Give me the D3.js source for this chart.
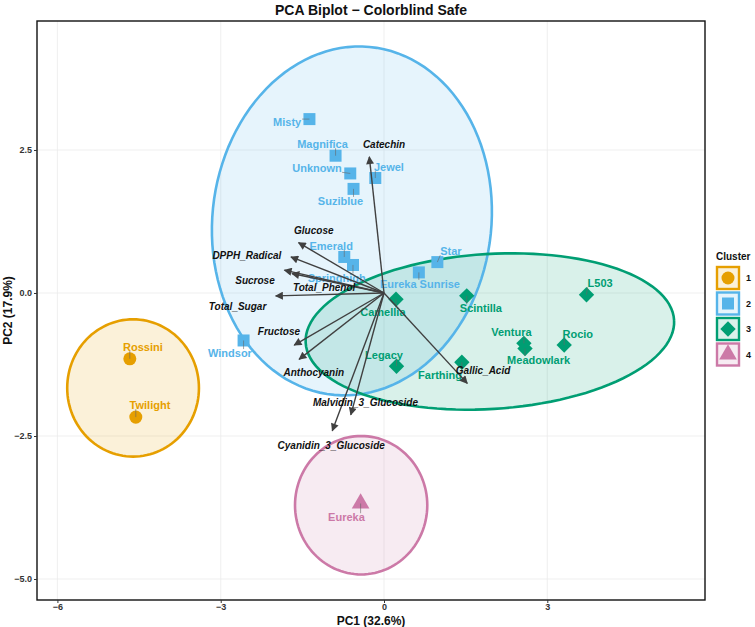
<!DOCTYPE html>
<html>
<head>
<meta charset="utf-8">
<script src="https://cdn.jsdelivr.net/npm/d3@7"></script>
<style>
  body { margin: 0; background: #fff; }
  svg { display: block; font-family: "Liberation Sans", Arial, sans-serif; }
</style>
</head>
<body>
<div id="chart"></div>
<script>
// cultivar scores (PC1, PC2) and cluster
const cultivars = ['Misty', 'Magnifica', 'Unknown', 'Jewel', 'Suziblue', 'Emerald', 'Springhigh',
  'Eureka Sunrise', 'Star', 'Windsor', 'Camellia', 'Scintilla', 'L503', 'Ventura', 'Meadowlark',
  'Rocio', 'Farthing', 'Legacy', 'Rossini', 'Twilight', 'Eureka'];
const pc1 = [-1.37, -0.89, -0.62, -0.16, -0.56, -0.73, -0.57, 0.64, 0.98, -2.58, 0.22, 1.52, 3.72,
  2.57, 2.59, 3.31, 1.43, 0.23, -4.67, -4.56, -0.43];
const pc2 = [3.04, 2.40, 2.09, 2.01, 1.82, 0.63, 0.49, 0.36, 0.54, -0.83, -0.11, -0.05, -0.03,
  -0.88, -0.97, -0.91, -1.21, -1.28, -1.15, -2.17, -3.68];
const cluster = [2, 2, 2, 2, 2, 2, 2, 2, 2, 2, 3, 3, 3, 3, 3, 3, 3, 3, 1, 1, 4];
// repelled label spots (in PC units)
const labX = [-1.78, -1.13, -1.23, 0.09, -0.80, -0.97, -0.87, 0.66, 1.23, -2.83, -0.02, 1.78, 3.97,
  2.34, 2.84, 3.56, 1.03, 0.0, -4.43, -4.30, -0.69];
const labY = [2.99, 2.60, 2.18, 2.20, 1.61, 0.83, 0.27, 0.16, 0.73, -1.05, -0.33, -0.27, 0.17,
  -0.69, -1.17, -0.72, -1.43, -1.08, -0.94, -1.96, -3.92];

// variable loadings (scaled)
const variables = ['Catechin', 'Glucose', 'DPPH_Radical', 'Sucrose', 'Total_Phenol', 'Total_Sugar',
  'Fructose', 'Anthocyanin', 'Malvidin_3_Glucoside', 'Cyanidin_3_Glucoside', 'Gallic_Acid'];
const load1 = [-0.27, -1.57, -1.71, -1.83, -1.69, -1.99, -1.65, -1.56, -0.61, -0.95, 1.53];
const load2 = [2.38, 0.88, 0.63, 0.40, 0.34, -0.05, -0.91, -1.16, -2.13, -2.41, -1.58];
const varLabX = [0.0, -1.29, -2.52, -2.37, -1.10, -2.69, -1.93, -1.29, -0.34, -0.97, 1.82];
const varLabY = [2.60, 1.09, 0.66, 0.22, 0.09, -0.24, -0.68, -1.39, -1.91, -2.66, -1.35];

// cluster ellipses: centre, semi-axes, angle (rad)
const clusterIds = [1, 2, 3, 4];
const ellCx = [-4.61, -0.59, 1.945, -0.42];
const ellCy = [-1.66, 1.26, -0.673, -3.71];
const ellA = [1.21, 2.56, 3.39, 1.215];
const ellB = [1.20, 3.06, 1.355, 1.21];
const ellPhi = [0, -0.15, 0.058, 0];

const xTicks = [-6, -3, 0, 3];
const yTicks = [-5, -2.5, 0, 2.5];

const colors = { 1: '#E69F00', 2: '#56B4E9', 3: '#009E73', 4: '#CC79A7' };
const W = 755, H = 627;
const panel = { left: 37, top: 21, right: 705, bottom: 600 };

const svg = d3.select('#chart').append('svg').attr('width', W).attr('height', H);

const x = d3.scaleLinear().domain([-6.375, 5.897]).range([panel.left, panel.right]);
const y = d3.scaleLinear().domain([-5.367, 4.755]).range([panel.bottom, panel.top]);

svg.append('defs').append('clipPath').attr('id', 'clip-panel')
  .append('rect')
  .attr('x', panel.left).attr('y', panel.top)
  .attr('width', panel.right - panel.left).attr('height', panel.bottom - panel.top);

// grid
const grid = svg.append('g');
grid.selectAll('.gx').data(xTicks).enter().append('line')
  .attr('x1', d => x(d)).attr('x2', d => x(d))
  .attr('y1', panel.top).attr('y2', panel.bottom)
  .attr('stroke', '#ebebeb').attr('stroke-width', 0.8);
grid.selectAll('.gy').data(yTicks).enter().append('line')
  .attr('y1', d => y(d)).attr('y2', d => y(d))
  .attr('x1', panel.left).attr('x2', panel.right)
  .attr('stroke', '#ebebeb').attr('stroke-width', 0.8);

const plot = svg.append('g').attr('clip-path', 'url(#clip-panel)');

// ellipses
function ellipsePts(i) {
  const pts = [];
  for (let k = 0; k <= 120; k++) {
    const t = (k / 120) * 2 * Math.PI;
    const c = Math.cos(t), s = Math.sin(t);
    const cp = Math.cos(ellPhi[i]), sp = Math.sin(ellPhi[i]);
    pts.push([ellCx[i] + ellA[i] * c * cp - ellB[i] * s * sp,
              ellCy[i] + ellA[i] * c * sp + ellB[i] * s * cp]);
  }
  return pts;
}
const ellLine = d3.line().x(d => x(d[0])).y(d => y(d[1]));
clusterIds.forEach((cl, i) => {
  plot.append('path').attr('d', ellLine(ellipsePts(i)))
    .attr('fill', colors[cl]).attr('fill-opacity', 0.15).attr('stroke', 'none');
});
clusterIds.forEach((cl, i) => {
  plot.append('path').attr('d', ellLine(ellipsePts(i)))
    .attr('fill', 'none').attr('stroke', colors[cl]).attr('stroke-width', 2.6);
});

// point shapes
function shapePath(cl, scale) {
  scale = scale || 1;
  if (cl === 1) return d3.symbol(d3.symbolCircle, 133 * scale)();
  if (cl === 2) return d3.symbol(d3.symbolSquare, 144 * scale)();
  if (cl === 3) return d3.symbol(d3.symbolSquare, 118 * scale)();
  return d3.symbol(d3.symbolTriangle, 135 * scale)();
}

const pts = plot.append('g');
cultivars.forEach((name, i) => {
  pts.append('path')
    .attr('d', shapePath(cluster[i]))
    .attr('transform', `translate(${x(pc1[i])},${y(pc2[i])})` + (cluster[i] === 3 ? ' rotate(45)' : ''))
    .attr('fill', colors[cluster[i]]);
});

// point labels + leader segments
const segs = plot.append('g');
const labs = plot.append('g');
cultivars.forEach((name, i) => {
  const t = labs.append('text')
    .attr('x', x(labX[i])).attr('y', y(labY[i]))
    .attr('text-anchor', 'middle').attr('dominant-baseline', 'central')
    .attr('font-size', 11).attr('font-weight', 'bold')
    .attr('fill', colors[cluster[i]])
    .text(name);
  const b = t.node().getBBox();
  const px = x(pc1[i]), py = y(pc2[i]);
  const qx = Math.max(b.x, Math.min(px, b.x + b.width));
  const qy = Math.max(b.y + 2, Math.min(py, b.y + b.height - 2));
  const dist = Math.hypot(qx - px, qy - py);
  if (dist > 3) {
    segs.append('line')
      .attr('x1', px).attr('y1', py).attr('x2', qx).attr('y2', qy)
      .attr('stroke', '#666').attr('stroke-width', 0.6);
  }
});

// loading arrows
svg.select('defs').append('marker')
  .attr('id', 'arrowhead')
  .attr('viewBox', '0 0 10 10')
  .attr('refX', 9).attr('refY', 5)
  .attr('markerWidth', 10).attr('markerHeight', 8)
  .attr('markerUnits', 'userSpaceOnUse')
  .attr('orient', 'auto')
  .append('path').attr('d', 'M0,0 L10,5 L0,10 z').attr('fill', '#404040');

const arrows = plot.append('g');
variables.forEach((v, i) => {
  arrows.append('line')
    .attr('x1', x(0)).attr('y1', y(0))
    .attr('x2', x(load1[i])).attr('y2', y(load2[i]))
    .attr('stroke', '#404040').attr('stroke-width', 1.4)
    .attr('marker-end', 'url(#arrowhead)');
});
variables.forEach((v, i) => {
  arrows.append('text')
    .attr('x', x(varLabX[i])).attr('y', y(varLabY[i]))
    .attr('text-anchor', 'middle').attr('dominant-baseline', 'central')
    .attr('font-size', 10).attr('font-weight', 'bold').attr('font-style', 'italic')
    .attr('fill', '#111')
    .text(v);
});

// panel border
svg.append('rect')
  .attr('x', panel.left).attr('y', panel.top)
  .attr('width', panel.right - panel.left).attr('height', panel.bottom - panel.top)
  .attr('fill', 'none').attr('stroke', '#111').attr('stroke-width', 1.4);

// axes
const fmtY = d3.format('.1f');
const xAxis = svg.append('g')
  .attr('transform', `translate(0,${panel.bottom})`)
  .call(d3.axisBottom(x).tickValues(xTicks).tickSize(3).tickPadding(1).tickFormat(d3.format('d')));
const yAxis = svg.append('g')
  .attr('transform', `translate(${panel.left},0)`)
  .call(d3.axisLeft(y).tickValues(yTicks).tickSize(3).tickPadding(2).tickFormat(fmtY));
[xAxis, yAxis].forEach(a => {
  a.select('.domain').remove();
  a.selectAll('.tick line').attr('stroke', '#333');
  a.selectAll('.tick text').attr('fill', '#333').attr('font-size', 9).attr('font-weight', 'bold')
    .attr('font-family', '"Liberation Sans", Arial, sans-serif');
});

// titles
const midX = (panel.left + panel.right) / 2;
svg.append('text').attr('x', midX).attr('y', 15)
  .attr('text-anchor', 'middle').attr('font-size', 14).attr('font-weight', 'bold')
  .attr('fill', '#111').text('PCA Biplot \u2212 Colorblind Safe');
svg.append('text').attr('x', midX).attr('y', 625)
  .attr('text-anchor', 'middle').attr('font-size', 12).attr('font-weight', 'bold')
  .attr('fill', '#111').text('PC1 (32.6%)');
svg.append('text')
  .attr('transform', `translate(12,${(panel.top + panel.bottom) / 2}) rotate(-90)`)
  .attr('text-anchor', 'middle').attr('font-size', 12).attr('font-weight', 'bold')
  .attr('fill', '#111').text('PC2 (17.9%)');

// legend
const legend = svg.append('g').attr('transform', 'translate(716,0)');
legend.append('text').attr('x', 0).attr('y', 260)
  .attr('font-size', 10).attr('font-weight', 'bold').attr('fill', '#111').text('Cluster');
clusterIds.forEach((cl, i) => {
  const top = 266 + i * 25.5;
  legend.append('rect').attr('x', 1).attr('y', top + 1).attr('width', 22).attr('height', 22)
    .attr('fill', colors[cl]).attr('fill-opacity', 0.15)
    .attr('stroke', colors[cl]).attr('stroke-width', 2.4);
  legend.append('path').attr('d', shapePath(cl))
    .attr('transform', `translate(12,${top + 12})` + (cl === 3 ? ' rotate(45)' : ''))
    .attr('fill', colors[cl]);
  legend.append('text').attr('x', 30).attr('y', top + 12)
    .attr('dominant-baseline', 'central')
    .attr('font-size', 9).attr('font-weight', 'bold').attr('fill', '#111').text(cl);
});
</script>
</body>
</html>
